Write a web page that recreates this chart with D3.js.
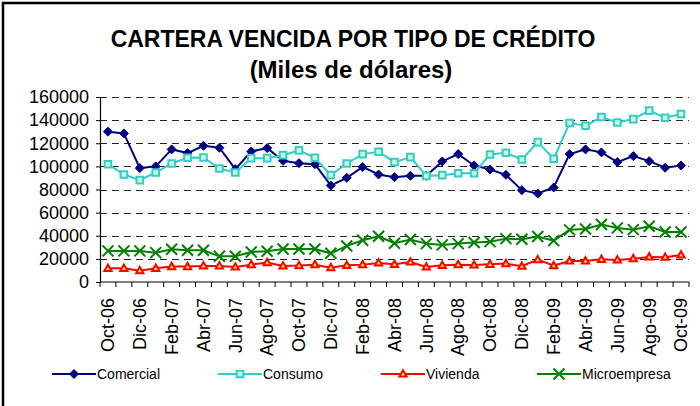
<!DOCTYPE html>
<html>
<head>
<meta charset="utf-8">
<script src="https://cdn.jsdelivr.net/npm/d3@7"></script>
<style>
  body { margin: 0; background: #fff; }
  svg { display: block; font-family: Arial, "Liberation Sans", sans-serif; }
</style>
</head>
<body>
<svg width="700" height="406"></svg>
<script>
var months = ["Oct-06","Nov-06","Dic-06","Ene-07","Feb-07","Mar-07","Abr-07","May-07","Jun-07","Jul-07","Ago-07","Sep-07",
    "Oct-07","Nov-07","Dic-07","Ene-08","Feb-08","Mar-08","Abr-08","May-08","Jun-08","Jul-08","Ago-08","Sep-08",
    "Oct-08","Nov-08","Dic-08","Ene-09","Feb-09","Mar-09","Abr-09","May-09","Jun-09","Jul-09","Ago-09","Sep-09","Oct-09"];

var comercial = [130000,128500,98500,100000,114700,111500,117800,116100,97600,112900,115800,104800,102800,101900,83500,90100,
    99500,93000,90700,91800,91800,104300,110600,100800,97300,92700,79400,76500,81700,110600,114700,112100,103700,108900,104500,98800,100800];
var consumo = [101900,93000,88100,94700,102500,107400,107700,98200,94700,107100,107100,109700,113800,107400,92400,102500,
    110600,112600,103700,108000,91800,92400,94100,94100,110300,111800,106000,121000,106600,137500,135200,142700,138000,140900,148200,142100,145300];
var vivienda = [11800,11800,9800,11800,13300,13300,13900,13900,13000,15000,16800,13900,14200,15000,12400,14400,
    15000,16500,15300,17300,13000,14400,15000,14700,15300,15900,13600,19300,14200,18200,18200,19600,19100,20200,21700,21400,23400];
var microempresa = [26900,26900,26900,25400,28300,27400,27400,22200,22200,26000,26600,28600,28600,28600,24800,31200,
    36100,39600,33500,36700,33200,32100,33200,34100,34900,37500,37000,39300,35800,45100,45900,49700,46800,45300,48200,43300,43300];

var yTicks = [0,20000,40000,60000,80000,100000,120000,140000,160000];

var series = [
    {name: "Comercial", values: comercial, color: "#000080", fill: "#000080", marker: "diamond"},
    {name: "Consumo", values: consumo, color: "#33CCCC", fill: "#CCFFCC", marker: "square"},
    {name: "Vivienda", values: vivienda, color: "#FF0000", fill: "#FFFF00", marker: "triangle"},
    {name: "Microempresa", values: microempresa, color: "#008000", fill: "none", marker: "x"}
];

var svg = d3.select("svg"),
    margin = {top: 97, right: 11, bottom: 124, left: 100},
    width = +svg.attr("width") - margin.left - margin.right,
    height = +svg.attr("height") - margin.top - margin.bottom;

// outer chart border (continues past the cropped right / bottom edges)
svg.append("path")
    .attr("d", "M3,410 L3,3 L710,3")
    .attr("fill", "none")
    .attr("stroke", "#000")
    .attr("stroke-width", 2.5);

svg.append("text")
    .attr("x", 353)
    .attr("y", 47)
    .attr("text-anchor", "middle")
    .style("font-size", "23px")
    .style("font-weight", "bold")
    .text("CARTERA VENCIDA POR TIPO DE CRÉDITO");

svg.append("text")
    .attr("x", 351)
    .attr("y", 78)
    .attr("text-anchor", "middle")
    .style("font-size", "24px")
    .style("font-weight", "bold")
    .text("(Miles de dólares)");

var g = svg.append("g")
    .attr("transform", "translate(" + margin.left + "," + margin.top + ")");

var x = d3.scaleBand()
    .domain(months)
    .range([0, width]);

var y = d3.scaleLinear()
    .domain([0, 160000])
    .range([height, 0]);

// dashed gridlines
g.selectAll(".grid")
    .data(yTicks.slice(1))
    .enter().append("line")
    .attr("class", "grid")
    .attr("x1", 0)
    .attr("x2", width)
    .attr("y1", function(d) { return Math.round(y(d)) + 0.5; })
    .attr("y2", function(d) { return Math.round(y(d)) + 0.5; })
    .attr("stroke", "#222")
    .attr("stroke-width", 1)
    .attr("stroke-dasharray", "7,5");

// y axis
var yAxis = g.append("g")
    .attr("class", "axis axis--y")
    .call(d3.axisLeft(y).tickValues(yTicks).tickFormat(d3.format("d")).tickSize(4).tickPadding(7));
yAxis.select(".domain").attr("stroke", "#000").attr("stroke-width", 1.2);
yAxis.selectAll(".tick line").attr("stroke", "#000");
yAxis.selectAll("text")
    .style("font-size", "18px")
    .style("font-family", "Arial, 'Liberation Sans', sans-serif")
    .attr("fill", "#000");

// x axis: ticks between categories
var xa = g.append("g")
    .attr("class", "axis axis--x")
    .attr("transform", "translate(0," + height + ")");
xa.append("line")
    .attr("x1", 0).attr("x2", width)
    .attr("stroke", "#000").attr("stroke-width", 1.2);
xa.selectAll(".xtick")
    .data(months.concat(["end"]))
    .enter().append("line")
    .attr("class", "xtick")
    .attr("x1", function(d, i) { return i * x.step(); })
    .attr("x2", function(d, i) { return i * x.step(); })
    .attr("y1", 0).attr("y2", 5)
    .attr("stroke", "#000");
xa.selectAll(".xlab")
    .data(months.filter(function(d, i) { return i % 2 === 0; }))
    .enter().append("text")
    .attr("class", "xlab")
    .attr("transform", function(d) {
        return "translate(" + (x(d) + x.bandwidth() / 2) + ",16) rotate(-90)";
    })
    .attr("dy", "0.35em")
    .attr("text-anchor", "end")
    .style("font-size", "18px")
    .text(function(d) { return d; });

function cx(i) { return x(months[i]) + x.bandwidth() / 2; }

function markerPath(type) {
    if (type === "diamond") return "M0,-4.5L4.5,0L0,4.5L-4.5,0Z";
    if (type === "square") return "M-3.3,-3.3H3.3V3.3H-3.3Z";
    if (type === "triangle") return "M0,-3.8L3.6,2.6H-3.6Z";
    var s = 5.5;
    return "M" + (-s) + "," + (-s) + "L" + s + "," + s + "M" + (-s) + "," + s + "L" + s + "," + (-s);
}

var line = d3.line()
    .x(function(d, i) { return cx(i); })
    .y(function(d) { return y(d); });

series.forEach(function(s) {
    g.append("path")
        .datum(s.values)
        .attr("fill", "none")
        .attr("stroke", s.color)
        .attr("stroke-width", 2)
        .attr("d", line);

    g.selectAll(".m-" + s.marker)
        .data(s.values)
        .enter().append("path")
        .attr("class", "m-" + s.marker)
        .attr("transform", function(d, i) {
            return "translate(" + cx(i) + "," + y(d) + ")";
        })
        .attr("d", markerPath(s.marker))
        .attr("fill", s.fill)
        .attr("stroke", s.color)
        .attr("stroke-width", s.marker === "diamond" ? 1 : 2);
});

// legend
var legendX = [52, 218, 381, 537];
var legend = svg.selectAll(".legend")
    .data(series)
    .enter().append("g")
    .attr("class", "legend")
    .attr("transform", function(d, i) { return "translate(" + legendX[i] + ",374)"; });
legend.append("line")
    .attr("x1", 0).attr("x2", 44)
    .attr("stroke", function(d) { return d.color; })
    .attr("stroke-width", 2);
legend.append("path")
    .attr("transform", "translate(22,0)")
    .attr("d", function(d) { return markerPath(d.marker); })
    .attr("fill", function(d) { return d.fill; })
    .attr("stroke", function(d) { return d.color; })
    .attr("stroke-width", function(d) { return d.marker === "diamond" ? 1 : 2; });
legend.append("text")
    .attr("x", 45)
    .attr("dy", "0.35em")
    .style("font-size", "14px")
    .text(function(d) { return d.name; });
</script>
</body>
</html>
